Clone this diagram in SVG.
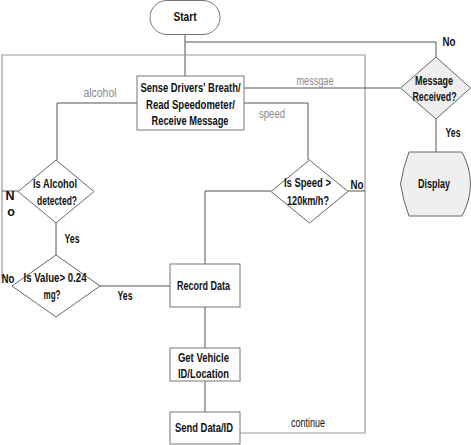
<svg xmlns="http://www.w3.org/2000/svg" width="471" height="445" viewBox="0 0 471 445">
<style>
text{font-family:"Liberation Sans",Arial,sans-serif;font-size:12.5px;text-anchor:middle;dominant-baseline:central}
.b{font-weight:bold;fill:#111}
.g{fill:#888}
.k{fill:#111}
.box{fill:#fff;stroke:#777;stroke-width:1}
.dia{fill:#fff;stroke:#666;stroke-width:1}
.gray{fill:#efefef;stroke:#666;stroke-width:1}
.ln{fill:none;stroke:#555;stroke-width:1}
.lt{fill:none;stroke:#999;stroke-width:1.2}
</style>
<g id="connectors">
<path class="ln" d="M185,34V76"/>
<path class="ln" d="M436,57V42H185"/>
<path class="lt" d="M240,433H365V55H2V277H12"/>
<path class="ln" d="M2,191H18"/>
<path class="ln" d="M137,103H57V160"/>
<path class="ln" d="M56,223V255"/>
<path class="ln" d="M100,286H170"/>
<path class="ln" d="M244,103H308V160"/>
<path class="ln" d="M348,191H365"/>
<path class="ln" d="M271,191H205V264"/>
<path class="ln" d="M205,307V348"/>
<path class="ln" d="M205,381V412"/>
<path class="ln" d="M244,88H400"/>
<path class="ln" d="M436,119V152"/>
<text class="g" x="100" y="93" textLength="33" lengthAdjust="spacingAndGlyphs">alcohol</text>
<text class="g" x="272" y="114" textLength="26" lengthAdjust="spacingAndGlyphs">speed</text>
<text class="g" x="315" y="81" textLength="37" lengthAdjust="spacingAndGlyphs">messgae</text>
<text class="b" x="449" y="42" textLength="13" lengthAdjust="spacingAndGlyphs">No</text>
<text class="b" x="453" y="133" textLength="15" lengthAdjust="spacingAndGlyphs">Yes</text>
<text class="b" x="10" y="196">N</text>
<text class="b" x="11" y="212">o</text>
<text class="b" x="72" y="239" textLength="15" lengthAdjust="spacingAndGlyphs">Yes</text>
<text class="b" x="8" y="279" textLength="13" lengthAdjust="spacingAndGlyphs">No</text>
<text class="b" x="125" y="296" textLength="15" lengthAdjust="spacingAndGlyphs">Yes</text>
<text class="b" x="357" y="185" textLength="13" lengthAdjust="spacingAndGlyphs">No</text>
<text class="k" x="308" y="423" textLength="34" lengthAdjust="spacingAndGlyphs">continue</text>
</g>
<g id="start">
<rect class="box" x="150" y="0.5" width="70" height="34" rx="17"/>
<text class="b" x="185" y="17" textLength="23" lengthAdjust="spacingAndGlyphs">Start</text>
</g>
<g id="sense">
<rect class="box" x="137" y="76" width="107" height="54"/>
<text class="b" x="190.5" y="88" textLength="100" lengthAdjust="spacingAndGlyphs">Sense Drivers' Breath/</text>
<text class="b" x="190.5" y="105" textLength="89" lengthAdjust="spacingAndGlyphs">Read Speedometer/</text>
<text class="b" x="190" y="121" textLength="77" lengthAdjust="spacingAndGlyphs">Receive Message</text>
</g>
<g id="message">
<polygon class="gray" points="436,57 470.5,88 436,119 400.5,88"/>
<text class="b" x="434" y="81" textLength="38" lengthAdjust="spacingAndGlyphs">Message</text>
<text class="b" x="434.5" y="97" font-size="11" textLength="44" lengthAdjust="spacingAndGlyphs">Received?</text>
</g>
<g id="display">
<path class="gray" d="M409,152H462Q479,184 462,216H409Q403,200 400.5,184Q403,168 409,152Z"/>
<text class="b" x="434" y="184" textLength="32" lengthAdjust="spacingAndGlyphs">Display</text>
</g>
<g id="alcohol">
<polygon class="dia" points="56,160 94,191.5 56,223 18,191.5"/>
<text class="b" x="55" y="184" textLength="44" lengthAdjust="spacingAndGlyphs">Is Alcohol</text>
<text class="b" x="57" y="201" textLength="40" lengthAdjust="spacingAndGlyphs">detected?</text>
</g>
<g id="value">
<polygon class="dia" points="56,255 100,286 56,317 12,286"/>
<text class="b" x="55" y="278" textLength="63" lengthAdjust="spacingAndGlyphs">Is Value&gt; 0.24</text>
<text class="b" x="52" y="295" textLength="17" lengthAdjust="spacingAndGlyphs">mg?</text>
</g>
<g id="speed">
<polygon class="dia" points="309.5,160 348,191.5 309.5,223 271,191.5"/>
<text class="b" x="307.5" y="183" textLength="47" lengthAdjust="spacingAndGlyphs">Is Speed &gt;</text>
<text class="b" x="308" y="201" textLength="42" lengthAdjust="spacingAndGlyphs">120km/h?</text>
</g>
<g id="record">
<rect class="box" x="170" y="264" width="70" height="43"/>
<text class="b" x="203.5" y="286" textLength="53" lengthAdjust="spacingAndGlyphs">Record Data</text>
</g>
<g id="vehicle">
<rect class="box" x="170" y="348" width="70" height="33"/>
<text class="b" x="203.5" y="358" textLength="51" lengthAdjust="spacingAndGlyphs">Get Vehicle</text>
<text class="b" x="203.5" y="374" textLength="51" lengthAdjust="spacingAndGlyphs">ID/Location</text>
</g>
<g id="send">
<rect class="box" x="170" y="412" width="70" height="32"/>
<text class="b" x="204" y="428" textLength="58" lengthAdjust="spacingAndGlyphs">Send Data/ID</text>
</g>
</svg>
